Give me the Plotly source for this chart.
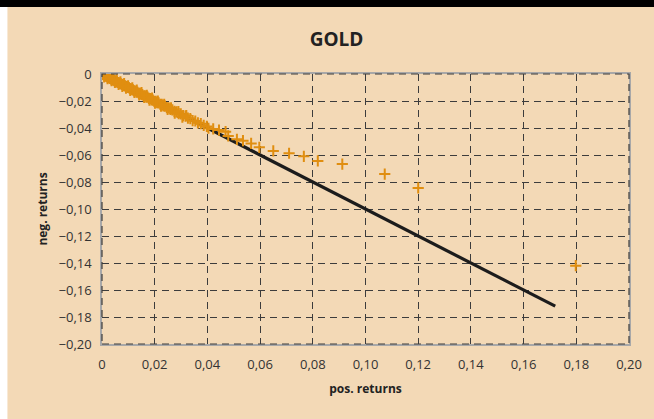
import plotly.graph_objects as go

# Quantile pairs: sorted positive daily returns vs. sorted negative daily returns
pos_returns = [
    0.0002, 0.0006, 0.0010, 0.0013, 0.0016, 0.0019, 0.0022, 0.0025, 0.0028, 0.0031,
    0.0034, 0.0037, 0.0040, 0.0044, 0.0047, 0.0050, 0.0054, 0.0057, 0.0061, 0.0064,
    0.0068, 0.0071, 0.0075, 0.0079, 0.0082, 0.0086, 0.0090, 0.0094, 0.0098, 0.0102,
    0.0106, 0.0110, 0.0114, 0.0118, 0.0122, 0.0126, 0.0131, 0.0135, 0.0140, 0.0144,
    0.0149, 0.0153, 0.0158, 0.0163, 0.0168, 0.0173, 0.0178, 0.0183, 0.0188, 0.0193,
    0.0198, 0.0204, 0.0209, 0.0215, 0.0221, 0.0227, 0.0233, 0.0239, 0.0246, 0.0253,
    0.0260, 0.0267, 0.0275, 0.0283, 0.0291, 0.0299, 0.0308, 0.0317, 0.0326, 0.0335,
    0.0344, 0.0354, 0.0364, 0.0375, 0.0386, 0.0398, 0.0404, 0.0422, 0.0444, 0.0469,
    0.0479, 0.0512, 0.0535, 0.0566, 0.0597, 0.0650, 0.0710, 0.0766, 0.0819, 0.0912,
    0.1073, 0.1200, 0.1798,
    0.0008, 0.0015, 0.0021, 0.0029, 0.0036, 0.0042, 0.0049, 0.0056, 0.0063, 0.0070,
    0.0077, 0.0084, 0.0091, 0.0099, 0.0107, 0.0115, 0.0123, 0.0132, 0.0141, 0.0150,
    0.0160, 0.0170, 0.0180, 0.0190, 0.0201, 0.0212, 0.0224, 0.0236, 0.0249, 0.0262,
    0.0276, 0.0290, 0.0305, 0.0320,
]
neg_returns = [
    -0.0003, -0.0005, -0.0012, -0.0013, -0.0018, -0.0020, -0.0024, -0.0026, -0.0030, -0.0032,
    -0.0037, -0.0036, -0.0043, -0.0044, -0.0050, -0.0051, -0.0056, -0.0058, -0.0063, -0.0065,
    -0.0070, -0.0071, -0.0077, -0.0079, -0.0085, -0.0086, -0.0092, -0.0094, -0.0100, -0.0101,
    -0.0108, -0.0110, -0.0116, -0.0117, -0.0125, -0.0126, -0.0134, -0.0135, -0.0143, -0.0144,
    -0.0152, -0.0153, -0.0161, -0.0162, -0.0171, -0.0172, -0.0181, -0.0182, -0.0191, -0.0193,
    -0.0202, -0.0203, -0.0213, -0.0214, -0.0224, -0.0225, -0.0236, -0.0238, -0.0249, -0.0251,
    -0.0263, -0.0265, -0.0277, -0.0280, -0.0293, -0.0296, -0.0309, -0.0312, -0.0327, -0.0330,
    -0.0345, -0.0348, -0.0362, -0.0368, -0.0381, -0.0388, -0.0402, -0.0407, -0.0415, -0.0427,
    -0.0459, -0.0484, -0.0494, -0.0514, -0.0543, -0.0570, -0.0587, -0.0610, -0.0644, -0.0667,
    -0.0741, -0.0844, -0.1420,
    -0.0022, -0.0004, -0.0035, -0.0017, -0.0050, -0.0030, -0.0063, -0.0044, -0.0077, -0.0058,
    -0.0091, -0.0072, -0.0105, -0.0087, -0.0121, -0.0103, -0.0137, -0.0120, -0.0155, -0.0138,
    -0.0174, -0.0158, -0.0194, -0.0178, -0.0215, -0.0200, -0.0238, -0.0224, -0.0263, -0.0250,
    -0.0290, -0.0278, -0.0319, -0.0308,
]

# Reference diagonal (symmetric distribution)
diag_x = [0.0, 0.172]
diag_y = [0.0, -0.172]

x_ticks = [0.0, 0.02, 0.04, 0.06, 0.08, 0.10, 0.12, 0.14, 0.16, 0.18, 0.20]
x_labels = ["0", "0,02", "0,04", "0,06", "0,08", "0,10", "0,12", "0,14", "0,16", "0,18", "0,20"]
y_ticks = [0.0, -0.02, -0.04, -0.06, -0.08, -0.10, -0.12, -0.14, -0.16, -0.18, -0.20]
y_labels = ["0", "\u22120,02", "\u22120,04", "\u22120,06", "\u22120,08", "\u22120,10",
            "\u22120,12", "\u22120,14", "\u22120,16", "\u22120,18", "\u22120,20"]

BEIGE = "#F3D9B6"
ORANGE = "#E08E10"
INK = "#222222"
GRID = "#3c3c3c"
FONT = "Open Sans"

fig = go.Figure()
fig.add_trace(go.Scatter(
    x=diag_x, y=diag_y, mode="lines",
    line=dict(color="#1c1c1c", width=3.2),
    hoverinfo="skip", showlegend=False,
))
fig.add_trace(go.Scatter(
    x=pos_returns, y=neg_returns, mode="markers",
    marker=dict(symbol="cross-thin", size=8, line=dict(width=2, color=ORANGE), color=ORANGE),
    showlegend=False,
))

axis_common = dict(
    showgrid=True, gridcolor=GRID, gridwidth=1.2, griddash="7px,5px",
    showline=True, linecolor="#a8a8a8", linewidth=1.5, mirror=True,
    zeroline=False, ticks="",
    tickfont=dict(family=FONT, size=13, color="#333333"),
)

fig.update_xaxes(
    range=[0, 0.20], tickvals=x_ticks, ticktext=x_labels,
    title=dict(text="<b>pos. returns</b>", font=dict(family=FONT, size=12, color=INK), standoff=12),
    ticklabelstandoff=8,
    **axis_common,
)
fig.update_yaxes(
    range=[-0.20, 0], tickvals=y_ticks, ticktext=y_labels,
    title=dict(text="<b>neg. returns</b>", font=dict(family=FONT, size=12, color=INK), standoff=8),
    ticklabelstandoff=6,
    **axis_common,
)

fig.update_layout(
    width=654, height=419,
    margin=dict(l=102, r=17, t=74, b=75),
    paper_bgcolor=BEIGE, plot_bgcolor=BEIGE,
    title=dict(
        text="<b>GOLD</b>", x=0.445, xref="paper", xanchor="center",
        y=1 - 39 / 419, yref="container", yanchor="middle",
        font=dict(family=FONT, size=19, color=INK),
    ),
    shapes=[
        # dashed frame over the plot border
        dict(type="rect", xref="paper", yref="paper", x0=0, x1=1, y0=0, y1=1,
             line=dict(color=GRID, width=1.2, dash="7px,5px"), layer="above"),
        # black band across the top
        dict(type="rect", xref="paper", yref="paper", x0=-0.3, x1=1.1,
             y0=(344 - 7) / 270, y1=1.4, fillcolor="black", line=dict(width=0), layer="above"),
        # white strip on the left edge
        dict(type="rect", xref="paper", yref="paper", x0=-0.3, x1=(6 - 102) / 535,
             y0=-0.4, y1=(344 - 7) / 270, fillcolor="white", line=dict(width=0), layer="above"),
    ],
)

fig.write_html("out.html")
